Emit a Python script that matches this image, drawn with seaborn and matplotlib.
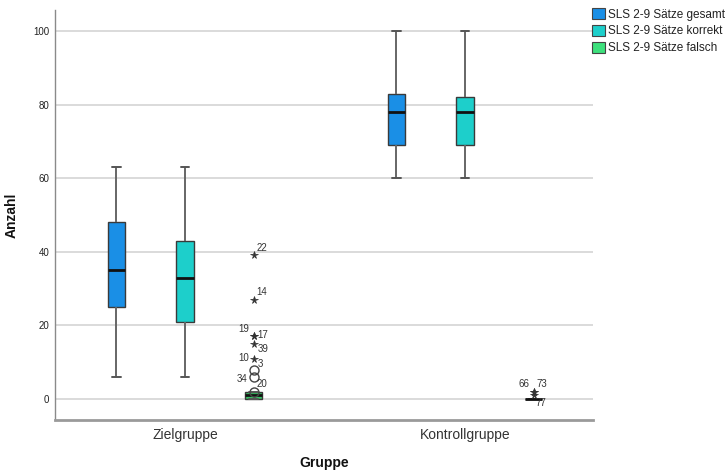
import numpy as np
import pandas as pd
import matplotlib
matplotlib.use("Agg")
import matplotlib.pyplot as plt
import seaborn as sns
from matplotlib.patches import Patch

groups = ["Zielgruppe", "Kontrollgruppe"]
series = ["SLS 2-9 Sätze gesamt", "SLS 2-9 Sätze korrekt", "SLS 2-9 Sätze falsch"]
colors = ["#1a8fe6", "#1dcfcb", "#36c063"]
legend_colors = ["#1a8fe6", "#1dcfcb", "#3de07c"]

# five-number summaries [min, Q1, median, Q3, max]
ziel_gesamt = [6, 25, 35, 48, 63]
ziel_korrekt = [6, 21, 33, 43, 63]
ziel_falsch = [0, 0, 1, 2, 2]
kontroll_gesamt = [60, 69, 78, 83, 100]
kontroll_korrekt = [60, 69, 78, 82, 100]
kontroll_falsch = [0, 0, 0, 0, 0]

# outliers of the "falsch" series (case number, value, marker)
ziel_out_cases = ["22", "14", "19", "17", "39", "10", "3", "34", "20"]
ziel_out_values = [39, 27, 17, 17, 15, 11, 8, 6, 2]
ziel_out_markers = ["*", "*", "*", "*", "*", "*", "o", "o", "o"]
kontroll_out_cases = ["66", "73", "77"]
kontroll_out_values = [2, 2, 1]
kontroll_out_markers = ["*", "*", "*"]

rows = []
for g, vals in zip(groups, [[ziel_gesamt, ziel_korrekt, ziel_falsch],
                            [kontroll_gesamt, kontroll_korrekt, kontroll_falsch]]):
    for s, v in zip(series, vals):
        for x in v:
            rows.append({"Gruppe": g, "Serie": s, "Anzahl": x})
df = pd.DataFrame(rows)

sns.set_theme(style="white")
plt.rcParams["font.family"] = ["Liberation Sans", "DejaVu Sans"]

fig = plt.figure(figsize=(7.28, 4.72), dpi=100)
ax = fig.add_axes([55 / 728, 1 - 420 / 472, 538 / 728, 410 / 472])

ax.yaxis.grid(True, color="#d4d4d4", linewidth=1.2, zorder=0)
ax.set_axisbelow(True)

width = 0.735
sns.boxplot(data=df, x="Gruppe", y="Anzahl", hue="Serie", order=groups,
            hue_order=series, palette=colors, saturation=1, width=width, gap=0.75,
            showfliers=False, whis=1.5, ax=ax, legend=False,
            boxprops=dict(edgecolor="#3a3a3a", linewidth=1.0),
            whiskerprops=dict(color="#666666", linewidth=1.4),
            capprops=dict(color="#555555", linewidth=1.4),
            medianprops=dict(color="#111111", linewidth=2.0))

offsets = {"22": (2, 3), "14": (2, 3), "19": (-11, 3), "17": (3, -1),
           "39": (3, -6), "10": (-11, -2), "3": (3, 2), "34": (-12, -4),
           "20": (2, 3), "66": (-11, 3), "73": (2, 3), "77": (1, -8)}

for gi, (cases, vals, marks) in enumerate([
        (ziel_out_cases, ziel_out_values, ziel_out_markers),
        (kontroll_out_cases, kontroll_out_values, kontroll_out_markers)]):
    xpos = gi + width / 3
    for c, v, m in zip(cases, vals, marks):
        if m == "*":
            ax.plot(xpos, v, marker="*", ms=5.5, color="#333333", mew=0.5, zorder=5)
        else:
            ax.plot(xpos, v, marker="o", ms=6.5, mfc="none", mec="#444444",
                    mew=1.0, zorder=5)
        ax.annotate(c, (xpos, v), xytext=offsets[c], textcoords="offset points",
                    fontsize=7, color="#333333", zorder=6)

ax.set_xlim(-0.464, 1.457)
ax.set_ylim(-5.7, 105.7)
ax.set_yticks([0, 20, 40, 60, 80, 100])
ax.tick_params(axis="y", labelsize=7, colors="#222222", length=0, pad=4)
ax.tick_params(axis="x", labelsize=10, colors="#333333", length=0, pad=6)

for sp in ["top", "right"]:
    ax.spines[sp].set_visible(False)
ax.spines["left"].set_color("#8a8a8a")
ax.spines["left"].set_linewidth(1.0)
ax.spines["bottom"].set_color("#9a9a9a")
ax.spines["bottom"].set_linewidth(2.0)

ax.set_xlabel("Gruppe", fontsize=10, fontweight="bold", color="#111111", labelpad=10)
ax.set_ylabel("Anzahl", fontsize=10, fontweight="bold", color="#111111")
ax.yaxis.set_label_coords(-0.068, 0.5)

handles = [Patch(facecolor=c, edgecolor="#444444", linewidth=0.8) for c in legend_colors]
fig.legend(handles, series, loc="upper left", bbox_to_anchor=(590 / 728, 1 - 6 / 472),
           frameon=False, fontsize=8.5, handlelength=1.05, handleheight=1.05,
           handletextpad=0.25, labelspacing=0.35, borderaxespad=0, borderpad=0.2,
           labelcolor="#222222")

fig.savefig("out.png", dpi=100)
